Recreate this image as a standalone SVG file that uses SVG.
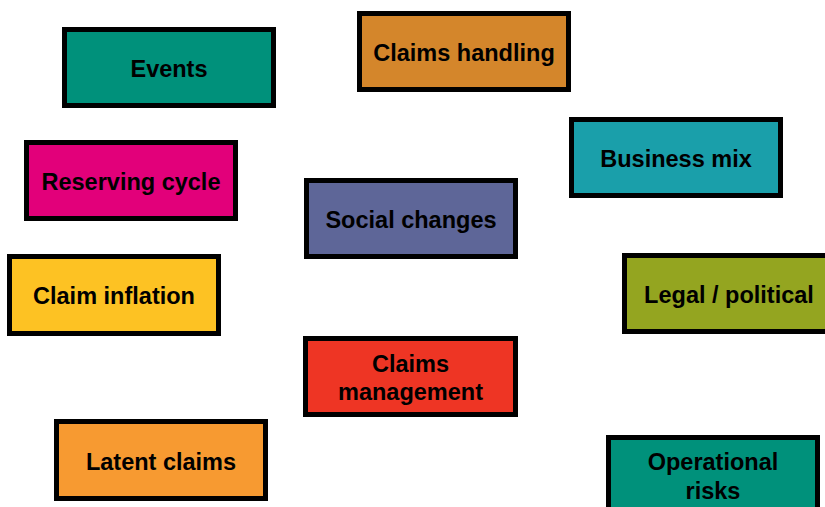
<svg xmlns="http://www.w3.org/2000/svg" width="825" height="507" viewBox="0 0 825 507">
  <style>
    .box { stroke: #000; stroke-width: 5; }
    .lbl { font-family: "Liberation Sans", Arial, sans-serif; font-weight: bold; font-size: 23.5px; fill: #000; text-anchor: middle; }
  </style>
  <rect width="825" height="507" fill="#fff"/>
  <g id="connectors"/>
  <g id="events">
    <rect class="box" x="64.5" y="29.5" width="209" height="76" fill="#00917B"/>
    <text class="lbl" x="169" y="77">Events</text>
  </g>
  <g id="claims-handling">
    <rect class="box" x="359.5" y="13.5" width="209" height="76" fill="#D4862B"/>
    <text class="lbl" x="464" y="61">Claims handling</text>
  </g>
  <g id="business-mix">
    <rect class="box" x="571.5" y="119.5" width="209" height="76" fill="#1A9FAA"/>
    <text class="lbl" x="676" y="167">Business mix</text>
  </g>
  <g id="reserving-cycle">
    <rect class="box" x="26.5" y="142.5" width="209" height="76" fill="#E2007A"/>
    <text class="lbl" x="131" y="190">Reserving cycle</text>
  </g>
  <g id="social-changes">
    <rect class="box" x="306.5" y="180.5" width="209" height="76" fill="#5E6698"/>
    <text class="lbl" x="411" y="228">Social changes</text>
  </g>
  <g id="claim-inflation">
    <rect class="box" x="9.5" y="256.5" width="209" height="77" fill="#FDC223"/>
    <text class="lbl" x="114" y="304">Claim inflation</text>
  </g>
  <g id="legal-political">
    <rect class="box" x="624.5" y="255.5" width="209" height="76" fill="#94A520"/>
    <text class="lbl" x="729" y="303">Legal / political</text>
  </g>
  <g id="claims-management">
    <rect class="box" x="305.5" y="338.5" width="210" height="76" fill="#EE3524"/>
    <text class="lbl" x="410.5" y="372">Claims</text>
    <text class="lbl" x="410.5" y="400">management</text>
  </g>
  <g id="latent-claims">
    <rect class="box" x="56.5" y="421.5" width="209" height="77" fill="#F79A31"/>
    <text class="lbl" x="161" y="470">Latent claims</text>
  </g>
  <g id="operational-risks">
    <rect class="box" x="608.5" y="437.5" width="209" height="80" fill="#00917B"/>
    <text class="lbl" x="713" y="470">Operational</text>
    <text class="lbl" x="713" y="499">risks</text>
  </g>
</svg>
